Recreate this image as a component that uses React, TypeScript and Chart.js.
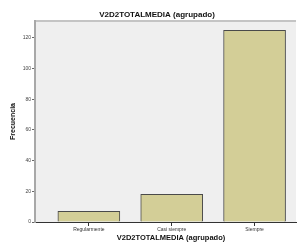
import React, { useEffect, useRef } from "react";
import { Chart, registerables } from "chart.js";

Chart.register(...registerables);

const categories = ["Regularmente", "Casi siempre", "Siempre"];
const frecuencias = [7, 18, 125];
const yTicks = [0, 20, 40, 60, 80, 100, 120];
const chartTitle = "V2D2TOTALMEDIA (agrupado)";
const xTitle = "V2D2TOTALMEDIA (agrupado)";
const yTitle = "Frecuencia";

const bgPlugin = {
  id: "spssFrame",
  beforeDraw(chart: any) {
    const { ctx, chartArea } = chart;
    ctx.save();
    ctx.fillStyle = "#efefef";
    ctx.fillRect(chartArea.left, chartArea.top, chartArea.right - chartArea.left, chartArea.bottom - chartArea.top);
    ctx.strokeStyle = "#c4c4c4";
    ctx.lineWidth = 2;
    ctx.beginPath();
    ctx.moveTo(chartArea.left, chartArea.top);
    ctx.lineTo(chartArea.right, chartArea.top);
    ctx.stroke();
    ctx.restore();
  },
  afterDraw(chart: any) {
    const { ctx } = chart;
    ctx.save();
    ctx.fillStyle = "#111";
    ctx.textAlign = "center";
    ctx.textBaseline = "middle";
    ctx.font = "bold 8px 'Liberation Sans', Arial, sans-serif";
    ctx.fillText(chartTitle, 157, 15);
    ctx.font = "bold 7.5px 'Liberation Sans', Arial, sans-serif";
    ctx.fillText(xTitle, 171, 238);
    ctx.restore();
  },
};

export default function App() {
  const ref = useRef<HTMLCanvasElement>(null);
  useEffect(() => {
    document.body.style.margin = "0";
    const chart = new Chart(ref.current!, {
      type: "bar",
      data: {
        datasets: [
          {
            label: yTitle,
            data: frecuencias.map((v, i) => ({ x: i, y: v })),
            backgroundColor: "#d3ce97",
            borderColor: "#4a4a4a",
            borderWidth: 1,
            barThickness: 62,
          },
        ],
      },
      plugins: [bgPlugin],
      options: {
        animation: false,
        responsive: false,
        layout: { padding: { top: 21, right: 1, left: 0, bottom: 0 } },
        plugins: { legend: { display: false }, tooltip: { enabled: false }, title: { display: false } },
        scales: {
          x: {
            type: "linear",
            min: -0.65,
            max: 2.5,
            offset: false,
            afterBuildTicks: (s: any) => {
              s.ticks = categories.map((_, i) => ({ value: i }));
            },
            afterFit: (s: any) => {
              s.height = 21;
            },
            ticks: {
              callback: (v: any) => categories[v as number] ?? "",
              font: { size: 5, family: "'Liberation Sans', Arial, sans-serif" },
              color: "#333",
              padding: 1,
              maxRotation: 0,
              autoSkip: false,
            },
            grid: { offset: false, drawOnChartArea: false, drawTicks: true, tickLength: 4, color: "#333" },
            border: { color: "#333", width: 1 },
          },
          y: {
            min: 0,
            max: 131,
            afterBuildTicks: (s: any) => {
              s.ticks = yTicks.map((v) => ({ value: v }));
            },
            afterFit: (s: any) => {
              s.width = 35;
            },
            ticks: {
              font: { size: 5, family: "'Liberation Sans', Arial, sans-serif" },
              color: "#444",
              padding: 1,
            },
            grid: { drawOnChartArea: false, drawTicks: true, tickLength: 3, color: "#666" },
            border: { color: "#a8a8a8", width: 2 },
            title: {
              display: true,
              text: yTitle,
              font: { size: 7, weight: "bold", family: "'Liberation Sans', Arial, sans-serif" },
              color: "#111",
              padding: { top: 9, bottom: 0 },
            },
          },
        },
      },
    } as any);
    return () => chart.destroy();
  }, []);
  return <canvas ref={ref} width={297} height={243} style={{ display: "block" }} />;
}
